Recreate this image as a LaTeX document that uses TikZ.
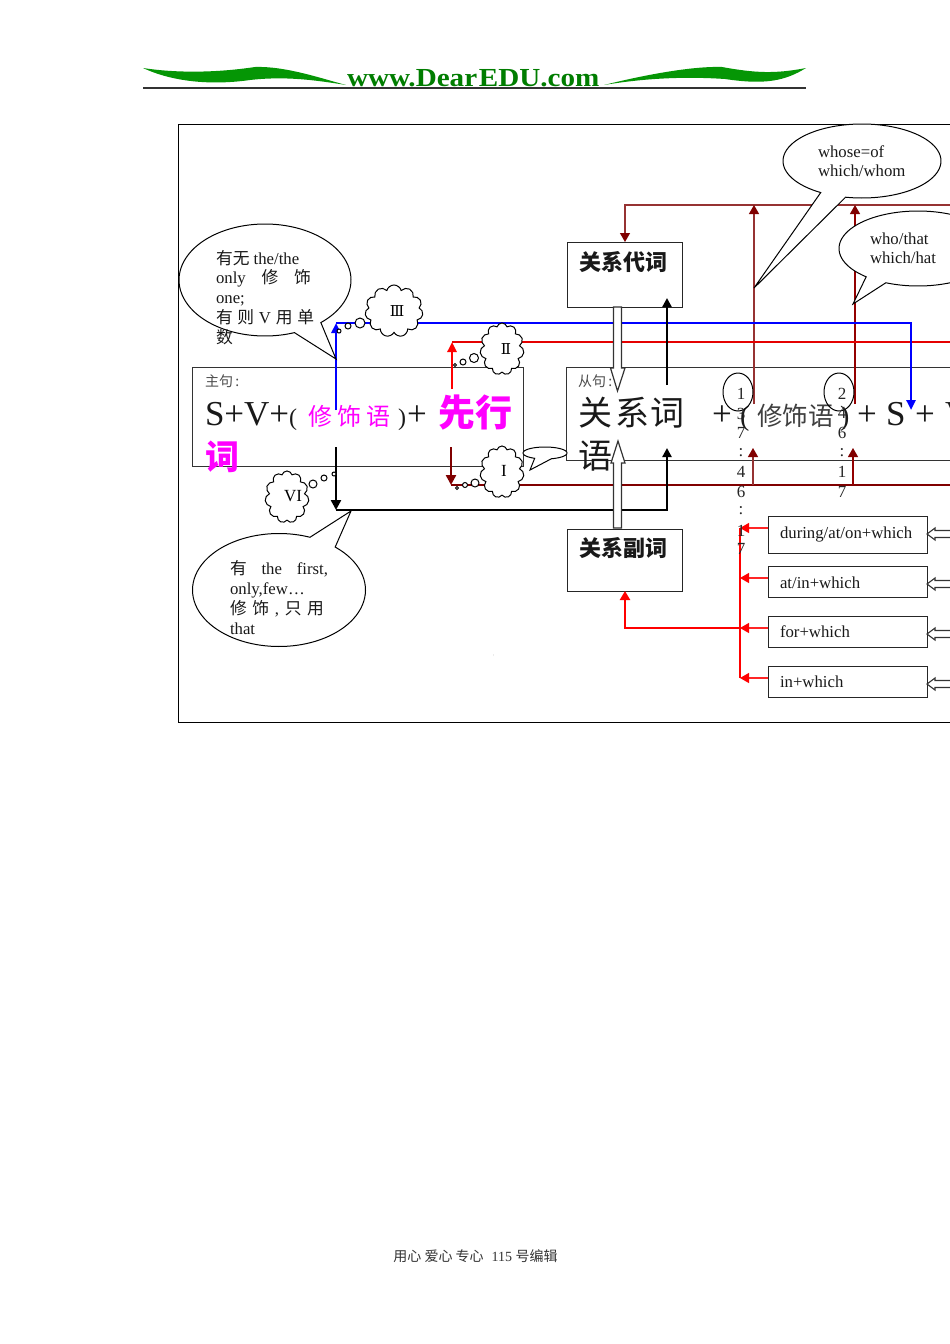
\documentclass[tikz,border=0pt]{standalone}
\usepackage{fontspec}
\setmainfont{Liberation Serif}
\newfontfamily\cjk{Noto Sans CJK SC}
\newfontfamily\romanfont{DejaVu Serif}
\usetikzlibrary{arrows.meta,shapes.symbols,shapes.geometric}
\newcommand\fs[1]{\fontsize{#1}{#1}\selectfont}
\newcommand\zh[1]{{\cjk #1}}
\definecolor{darkred}{RGB}{128,0,0}
\definecolor{softred}{RGB}{150,50,50}
\definecolor{hdgreen}{RGB}{0,125,0}
\definecolor{swoosh}{RGB}{5,150,5}
\definecolor{mag}{RGB}{255,0,255}
\tikzset{
 txt/.style={inner sep=0,outer sep=0,anchor=base west,font=\fs{16.75},text=black!90},
 bigtxt/.style={txt,font=\fs{35}},
 box/.style={draw=black!85,line width=0.95pt,fill=white,outer sep=0},
 openbox/.style={draw=black!80,line width=0.95pt,outer sep=0},
 tailbubble/.style={draw=black,line width=1pt,fill=white},
 puff/.style={cloud,cloud puffs=11,cloud ignores aspect,draw=black,line width=1pt,fill=white,inner sep=0,font=\fs{17}},
 dot/.style={draw=black,line width=1pt,fill=white},
 hollow/.style={draw=black!80,line width=1.2pt,fill=white},
 softarrow/.style={draw=softred,line width=1.2pt,-{Triangle[length=9pt,width=10pt,color=darkred]}},
 thinred/.style={draw=darkred!85!red,line width=1.1pt,-{Triangle[length=9pt,width=10pt,color=darkred]}},
 boldline/.style={line width=2.4pt},
 link/.style={draw=red!85!white,line width=1.2pt,-{Triangle[length=9pt,width=10pt,color=red]}},
}
\newcommand\bubble[8]{\draw[tailbubble] plot[smooth,domain=#5:#6,samples=90] ({#1+#3*cos(\x)},{#2+#4*sin(\x)}) -- (#7,#8) -- cycle;}
\begin{document}
\begin{tikzpicture}[x=1pt,y=-1pt]
\useasboundingbox (0,0) rectangle (950,1344);
\clip (0,0) rectangle (950,1344);
\fill[white] (0,0) rectangle (950,1344);
% header
\fill[swoosh] (143,68) .. controls (175,73) and (215,73) .. (255,67) .. controls (285,66) and (320,78) .. (346,85) .. controls (315,80) and (285,76) .. (250,80) .. controls (215,85) and (175,83) .. (143,68) -- cycle;
\fill[swoosh] (806,68) .. controls (775,74) and (755,73) .. (722,67) .. controls (690,66) and (640,76) .. (604,85) .. controls (640,79) and (680,76) .. (725,79) .. controls (765,85) and (785,81) .. (806,68) -- cycle;
\draw[black!80,line width=1.1pt] (143,88) -- (806,88);
\node[txt,font=\fs{26}\bfseries,text=hdgreen] (site) at (347,86) {\scalebox{1.12}[1]{www.Dear\hspace{1.5pt}EDU.com}};
% frame
\draw[black,line width=1pt] (178,124) rectangle (1000,722);
% boxes
\node[box,minimum width=115pt,minimum height=65pt,inner sep=0] (pron) at (624.5,274.5) {};
\node[box,minimum width=115pt,minimum height=62pt,inner sep=0] (adv) at (624.5,560) {};
\node[box,minimum width=159pt,minimum height=37pt,inner sep=0] (b1) at (847.5,534.5) {};
\node[box,minimum width=159pt,minimum height=31pt,inner sep=0] (b2) at (847.5,581.5) {};
\node[box,minimum width=159pt,minimum height=31pt,inner sep=0] (b3) at (847.5,631.5) {};
\node[box,minimum width=159pt,minimum height=31pt,inner sep=0] (b4) at (847.5,681.5) {};
\node[openbox,minimum width=331pt,minimum height=99pt,inner sep=0] (mainc) at (357.5,416.5) {};
\node[openbox,minimum width=434pt,minimum height=93pt,inner sep=0] (subc) at (783,413.5) {};
% named junctions
\coordinate (tr) at (625,205); \coordinate (trE) at (1000,205);
\coordinate (c1t) at (754,205); \coordinate (c1b) at (754,404);
\coordinate (c2t) at (855,205); \coordinate (c2b) at (855,404);
\coordinate (drL) at (451,485); \coordinate (drE) at (1000,485); \coordinate (drS) at (451,447);
\coordinate (u1b) at (753,485); \coordinate (u1t) at (753,448);
\coordinate (u2b) at (853,485); \coordinate (u2t) at (853,448);
\coordinate (rS) at (452,389); \coordinate (rT) at (452,342); \coordinate (rE) at (1000,342);
\coordinate (blS) at (336,410); \coordinate (blT) at (336,323); \coordinate (blR) at (911,323); \coordinate (blE) at (911,410);
\coordinate (kS) at (336,447); \coordinate (kB) at (336,510); \coordinate (kR) at (667,510); \coordinate (kE) at (667,448);
\coordinate (kuS) at (667,385); \coordinate (kuE) at (667,298);
\coordinate (vTop) at (740,528); \coordinate (vBot) at (740,678); \coordinate (vMid) at (740,628);
\coordinate (advL) at (625,628);
% connectors
\draw[softarrow] (trE) -- (tr) -- (pron.north -| tr);
\draw[softarrow] (c1b) -- (c1t);
\draw[thinred] (c2b) -- (c2t);
\draw[darkred,boldline] (drE) -- (drL);
\draw[darkred,boldline,-{Triangle[length=10pt,width=10pt]}] (drS) -- (drL);
\draw[softarrow] (u1b) -- (u1t);
\draw[thinred] (u2b) -- (u2t);
\draw[red!90!black,boldline] (rE) -- (rT);
\draw[red,boldline,-{Triangle[length=10pt,width=9pt]}] (rS) -- (rT);
\draw[blue,boldline,-{Triangle[length=10pt,width=9pt]}] (blS) -- (blT);
\draw[blue,boldline,-{Triangle[length=10pt,width=9pt]}] (blT) -- (blR) -- (blE);
\draw[black,boldline,-{Triangle[length=10pt,width=10pt]}] (kS) -- (kB);
\draw[black,boldline,-{Triangle[length=9pt,width=9pt]}] (kB) -- (kR) -- (kE);
\draw[black,boldline,-{Triangle[length=9pt,width=9pt]}] (kuS) -- (kuE);
\draw[red,line width=2.5pt] (vTop) -- (vBot);
\draw[red,line width=2.4pt,-{Triangle[length=9pt,width=10pt]}] (vMid) -- (advL) -- (adv.south -| advL);
\draw[link] (b1.west |- vTop) -- (vTop);
\draw[link] (b2.west |- 0,578) -- (740,578);
\draw[link] (b3.west |- vMid) -- (vMid);
\draw[link] (b4.west |- vBot) -- (vBot);
% hollow arrows
\draw[hollow] (613.5,307) -- (613.5,368) -- (610.5,368) -- (617.5,391) -- (625,368) -- (621.5,368) -- (621.5,307) -- cycle;
\draw[hollow] (613.5,528) -- (613.5,463) -- (611,463) -- (618,441) -- (625,463) -- (621.5,463) -- (621.5,528) -- cycle;
\foreach \yy in {534,584,634,684}{
 \draw[hollow,line width=1.1pt] (1000,\yy-3.5) -- (935,\yy-3.5) -- (935,\yy-6) -- (927,\yy) -- (935,\yy+6) -- (935,\yy+3.5) -- (1000,\yy+3.5);
}
% bubbles
\bubble{265}{280}{86}{56}{70}{409.5}{336}{359}
\bubble{279}{590}{86.5}{56.5}{-49.5}{291}{351}{511}
\bubble{862}{161}{79}{37}{121.5}{462}{754}{288}
\bubble{918}{248.5}{79}{37.5}{131}{474}{853}{304}
\bubble{545}{453}{22}{6}{118}{433}{530}{470}
% thought clouds
\node[puff,minimum width=58pt,minimum height=52pt] (c3) at (394,311) {};
\node[puff,minimum width=44pt,minimum height=52pt] (c2) at (502,349) {};
\node[puff,minimum width=44pt,minimum height=52pt] (c1) at (502,472) {};
\node[puff,minimum width=44pt,minimum height=52pt] (c6) at (287,497) {};
\node[font=\fs{15}\romanfont,inner sep=0] (t3) at (397,311) {Ⅲ};
\node[font=\fs{15}\romanfont,inner sep=0] (t2) at (506,349) {Ⅱ};
\node[font=\fs{17},inner sep=0] (t1) at (504,471) {I};
\node[font=\fs{17},inner sep=0] (t6) at (293,496) {VI};
\foreach \cx/\cy/\r in {360/323/5,348/326/3,339/331/2,474/358/4.5,463/362/3,455/365/1.5,475/483/4,465/485/2.5,457/488/1.5,313/484/4,324/478/3,334/474/2}{
 \draw[dot] (\cx,\cy) circle (\r);
}
% box texts
\node[txt,font=\fs{22}\cjk\bfseries] (pront) at (579,270) {关系代词};
\node[txt,font=\fs{22}\cjk\bfseries] (advt) at (579,556) {关系副词};
\node[txt] (b1t) at (780,538) {during/at/on+which};
\node[txt] (b2t) at (780,588) {at/in+which};
\node[txt] (b3t) at (780,637) {for+which};
\node[txt] (b4t) at (780,687) {in+which};
\node[txt] (w1) at (818,157) {whose=of};
\node[txt] (w2) at (818,176) {which/whom};
\node[txt] (h1) at (870,244) {who/that};
\node[txt] (h2) at (870,263) {which/hat};
% left bubble
\node[txt] (l1) at (216,264) {\zh{有无} the/the};
\node[txt] (l2) at (216,283) {\makebox[95pt][s]{only\hfil\zh{修}\hfil\zh{饰}}};
\node[txt] (l3) at (216,303) {one;};
\node[txt] (l4) at (216,323) {\makebox[98pt][s]{\zh{有}\hfil\zh{则}\hfil V\hfil\zh{用}\hfil\zh{单}}};
\node[txt] (l5) at (216,343) {\zh{数}};
% bottom bubble
\node[txt] (m1) at (230,574) {\makebox[98pt][s]{\zh{有}\hfil the\hfil first,}};
\node[txt] (m2) at (230,594) {only,few…};
\node[txt] (m3) at (230,614) {\makebox[94pt][s]{\zh{修}\hfil\zh{饰}\hfil,\hfil\zh{只}\hfil\zh{用}}};
\node[txt] (m4) at (230,634) {that};
% main clause
\node[txt,font=\fs{14}\cjk,text=black!70] (mh) at (205,386) {主句\,:};
\node[bigtxt] (s1) at (205,425) {S+V+};
\node[txt,font=\fs{24}] (s2) at (289,425) {(};
\node[txt,font=\fs{24}\cjk,text=mag] (s3a) at (308,425) {修};
\node[txt,font=\fs{24}\cjk,text=mag] (s3b) at (337,425) {饰};
\node[txt,font=\fs{24}\cjk,text=mag] (s3c) at (366,425) {语};
\node[txt,font=\fs{24}] (s4) at (398,425) {)};
\node[bigtxt] (s5) at (407,425) {+};
\node[txt,font=\fs{37}\cjk\bfseries,text=mag] (s6) at (438,426) {先行};
\node[txt,font=\fs{34}\cjk\bfseries,text=mag] (s7) at (205,469) {词};
% sub clause
\node[txt,font=\fs{14}\cjk,text=black!70] (rh) at (578,386) {从句\,:};
\node[txt,font=\fs{34}\cjk] (r1) at (578,425) {关};
\node[txt,font=\fs{34}\cjk] (r2) at (615,425) {系};
\node[txt,font=\fs{34}\cjk] (r3) at (650,425) {词};
\node[txt,font=\fs{34}\cjk] (r4) at (578,468) {语};
\node[bigtxt] (r5) at (712,425) {+};
\node[txt,font=\fs{28}] (r6) at (740,425) {(};
\node[txt,font=\fs{25.5}\cjk,text=black!75] (r7) at (757,425) {修饰语};
\node[txt,font=\fs{28}] (r8) at (840,425) {)};
\node[bigtxt] (r9) at (857,425) {+};
\node[bigtxt] (r10) at (886,425) {S};
\node[bigtxt] (r11) at (915,425) {+};
\node[bigtxt] (r12) at (945,425) {V};
% numbered ovals
\node[draw=black,line width=1pt,ellipse,minimum width=30pt,minimum height=38pt,inner sep=0] (o1) at (738,392) {};
\node[draw=black,line width=1pt,ellipse,minimum width=30pt,minimum height=38pt,inner sep=0] (o2) at (839,392) {};
\foreach \nm/\tx/\ty/\lbl in {p/741/394/1,q/842/394/2,a/741/433/7,b/741/453/:,c/741/472/4,d/741/492/6,e/741/511/:,f/741/531/1,g/741/549/7,h/842/413/4,i/842/433/6,j/842/453/:,k/842/472/1,l/842/492/7,m/741/414/3}{
 \node[inner sep=0,font=\fs{17},text=black!85] (n\nm) at (\tx,\ty) {\lbl};
}
\node[inner sep=0,font=\fs{4},text=black!50] (speck) at (494,656) {:};
% footer
\node[inner sep=0,font=\fs{14},text=black!80] (foot) at (475.5,1256) {\zh{用心 爱心 专心}\hspace{8pt}115 \zh{号编辑}};
\end{tikzpicture}
\end{document}
